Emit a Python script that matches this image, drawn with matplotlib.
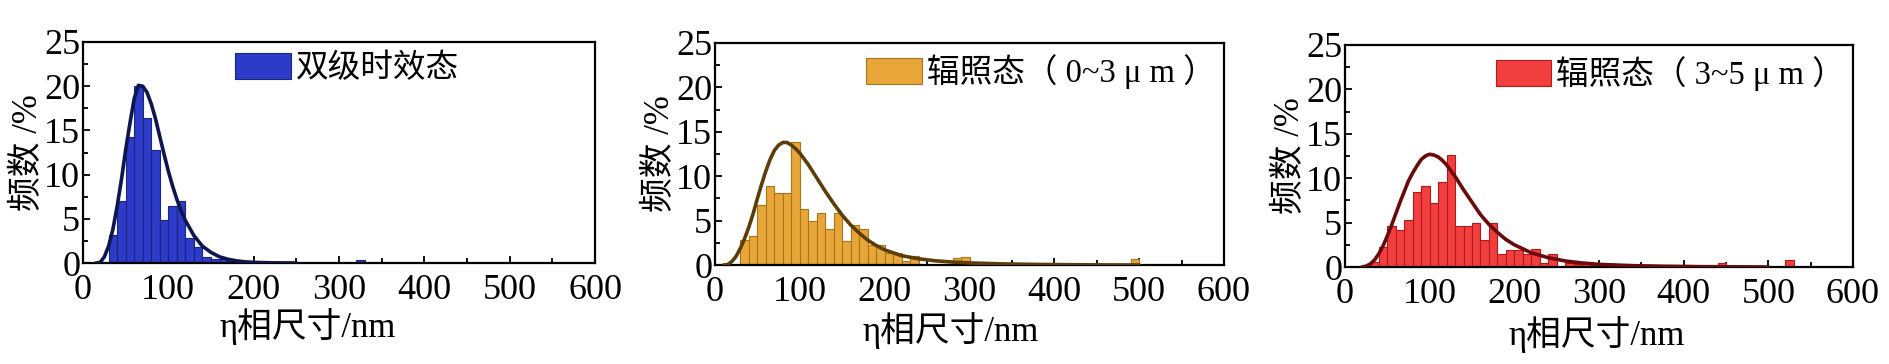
import matplotlib
matplotlib.use("Agg")
import matplotlib.pyplot as plt
from matplotlib.ticker import MultipleLocator

# ---------------- data ----------------
xlabel_text = "η相尺寸/nm"
ylabel_text = "频数 /%"
bin_width = 10

# Panel 1: 双级时效态
label1 = "双级时效态"
bins1 = [30, 40, 50, 60, 70, 80, 90, 100, 110, 120, 130, 140, 150, 160, 170, 180, 190, 320]
freq1 = [3.2, 7.0, 14.2, 20.0, 16.4, 12.8, 4.9, 6.4, 7.0, 2.8, 1.8, 0.7, 0.5, 0.4, 0.3, 0.2, 0.1, 0.3]
fit_x1 = [15, 20, 25, 30, 35, 40, 45, 50, 55, 60, 65, 70, 75, 80, 85, 90, 95, 100, 105, 110,
          115, 120, 130, 140, 150, 160, 170, 180, 190, 200, 220, 250]
fit_y1 = [0.0, 0.05, 0.7, 1.9, 3.8, 6.4, 9.4, 12.8, 15.8, 18.6, 20.1, 20.0, 19.3, 18.0, 16.3, 14.3,
          12.3, 10.4, 8.7, 7.2, 5.9, 4.8, 3.1, 1.9, 1.2, 0.7, 0.42, 0.24, 0.13, 0.07, 0.02, 0.0]

# Panel 2: 辐照态（0~3 μm）
label2 = "辐照态（ 0~3 μ m ）"
bins2 = [30, 40, 50, 60, 70, 80, 90, 100, 110, 120, 130, 140, 150, 160, 170, 180, 190, 200, 210, 220, 230,
         280, 290, 300, 310, 320, 330, 340, 350, 360, 370, 380, 390, 400, 410, 420, 490]
freq2 = [2.8, 3.3, 6.8, 8.9, 8.1, 8.1, 13.9, 6.3, 5.0, 5.9, 4.0, 5.9, 2.7, 4.5, 4.0, 2.25, 2.25, 1.4, 1.4, 0.5, 1.0,
         0.8, 0.9, 0.3, 0.3, 0.2, 0.2, 0.2, 0.2, 0.2, 0.2, 0.2, 0.2, 0.2, 0.2, 0.2, 0.7]
fit_x2 = [10, 15, 20, 25, 30, 35, 40, 45, 50, 55, 60, 65, 70, 75, 80, 85, 90, 95, 100, 110, 120, 130,
          140, 150, 160, 170, 180, 190, 200, 220, 240, 260, 280, 300, 340, 380, 420, 460, 500]
fit_y2 = [0.0, 0.05, 0.4, 1.0, 1.9, 3.0, 4.3, 5.8, 7.5, 9.1, 10.6, 11.9, 12.9, 13.5, 13.8, 13.8, 13.5, 13.1,
          12.6, 11.3, 9.8, 8.3, 6.9, 5.6, 4.5, 3.6, 2.8, 2.2, 1.7, 1.05, 0.7, 0.47, 0.33, 0.23, 0.12, 0.06,
          0.03, 0.01, 0.0]

# Panel 3: 辐照态（3~5 μm）
label3 = "辐照态（ 3~5 μ m ）"
bins3 = [30, 40, 50, 60, 70, 80, 90, 100, 110, 120, 130, 140, 150, 160, 170, 180, 190, 200, 210, 220, 230, 240,
         260, 270, 280, 290, 300, 310, 320, 330, 340, 350, 360, 370, 380, 390, 400, 440, 520]
freq3 = [0.6, 2.3, 4.6, 4.2, 5.3, 8.4, 9.1, 7.2, 9.6, 12.6, 4.6, 4.6, 5.0, 3.0, 4.9, 1.5, 1.9, 1.9, 1.5, 2.0, 0.4, 1.5,
         0.4, 0.3, 0.3, 0.3, 0.3, 0.2, 0.2, 0.2, 0.2, 0.2, 0.2, 0.2, 0.2, 0.2, 0.2, 0.4, 0.8]
fit_x3 = [20, 25, 30, 35, 40, 45, 50, 55, 60, 65, 70, 75, 80, 85, 90, 95, 100, 105, 110, 115, 120, 130,
          140, 150, 160, 170, 180, 190, 200, 220, 240, 260, 280, 300, 340, 380, 420, 460, 500]
fit_y3 = [0.0, 0.1, 0.35, 0.8, 1.5, 2.4, 3.5, 4.7, 6.0, 7.3, 8.5, 9.7, 10.6, 11.4, 12.1, 12.5, 12.7, 12.6,
          12.4, 12.0, 11.5, 10.2, 8.7, 7.3, 5.9, 4.8, 3.9, 3.1, 2.5, 1.6, 1.05, 0.68, 0.45, 0.3, 0.15, 0.08,
          0.04, 0.02, 0.0]

x_ticks = [0, 100, 200, 300, 400, 500, 600]
y_ticks = [0, 5, 10, 15, 20, 25]

# ---------------- styling ----------------
W, H = 1890, 364
fig = plt.figure(figsize=(W / 100, H / 100), dpi=100)

serif_cjk = ["Liberation Serif", "Noto Sans CJK SC"]

panels = [
    dict(bins=bins1, freq=freq1, fx=fit_x1, fy=fit_y1, label=label1,
         face="#2C3CC8", edge="#1C2580", line="#0E1650",
         box=(83, 42, 595, 263), xl=(308, 327)),
    dict(bins=bins2, freq=freq2, fx=fit_x2, fy=fit_y2, label=label2,
         face="#E9A638", edge="#A8741C", line="#5C3D06",
         box=(715, 43, 1224, 265), xl=(951, 331)),
    dict(bins=bins3, freq=freq3, fx=fit_x3, fy=fit_y3, label=label3,
         face="#F23E3E", edge="#B01A1A", line="#6A0A0A",
         box=(1345, 45, 1853, 267), xl=(1597, 335)),
]

for p in panels:
    l, t, r, b = p["box"]
    ax = fig.add_axes([l / W, 1 - b / H, (r - l) / W, (b - t) / H])
    ax.bar(p["bins"], p["freq"], width=bin_width, align="edge",
           color=p["face"], edgecolor=p["edge"], linewidth=0.8, label=p["label"], zorder=2)
    ax.plot(p["fx"], p["fy"], color=p["line"], linewidth=2.6, zorder=3,
            solid_joinstyle="round", solid_capstyle="round")
    ax.set_xlim(0, 600)
    ax.set_ylim(0, 25)
    ax.set_xticks(x_ticks)
    ax.set_yticks(y_ticks)
    ax.xaxis.set_minor_locator(MultipleLocator(50))
    ax.yaxis.set_minor_locator(MultipleLocator(2.5))
    ax.tick_params(which="both", direction="in", top=False, right=False, width=1.3, color="black")
    ax.tick_params(which="major", length=5)
    ax.tick_params(which="minor", length=3.5)
    ax.tick_params(axis="x", which="major", pad=8)
    ax.tick_params(axis="y", which="major", pad=2)
    for lab in ax.get_xticklabels() + ax.get_yticklabels():
        lab.set_fontfamily("Liberation Serif")
        lab.set_fontsize(26)
    for s in ax.spines.values():
        s.set_linewidth(1.6)
    ax.legend(loc="upper left", bbox_to_anchor=(0.297, 0.95), frameon=False,
              handlelength=1.7, handleheight=0.85, handletextpad=0.15, borderpad=0,
              borderaxespad=0, prop={"family": serif_cjk, "size": 23.5})
    # labels
    fig.text(p["xl"][0] / W, 1 - p["xl"][1] / H, xlabel_text, ha="center", va="center",
             fontsize=25, family=serif_cjk)
    fig.text((l - 54) / W, 1 - ((t + b) / 2) / H, ylabel_text, ha="center", va="center",
             rotation=90, fontsize=25, family=serif_cjk)

fig.savefig("out.png", dpi=100)
